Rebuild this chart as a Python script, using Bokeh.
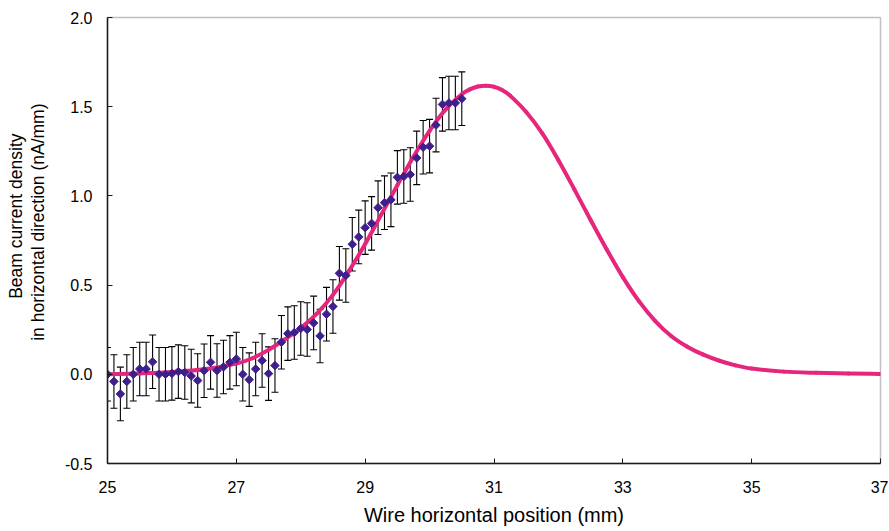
import math
from bokeh.plotting import figure
from bokeh.models import (ColumnDataSource, Whisker, TeeHead, FixedTicker,
                          PrintfTickFormatter, Title, Range1d)
from bokeh.embed import file_html
from bokeh.resources import INLINE

# ---- measured data (wire position in mm, current density in nA/mm) ----
POSITION = [25.0, 25.1, 25.2, 25.3, 25.4, 25.5, 25.6, 25.7, 25.8, 25.9,
            26.0, 26.1, 26.2, 26.3, 26.4, 26.5, 26.6, 26.7, 26.8, 26.9,
            27.0, 27.1, 27.2, 27.3, 27.4, 27.5, 27.6, 27.7, 27.8, 27.9,
            28.0, 28.1, 28.2, 28.3, 28.4, 28.5, 28.6, 28.7, 28.8, 28.9,
            29.0, 29.1, 29.2, 29.3, 29.4, 29.5, 29.6, 29.7, 29.8, 29.9,
            30.0, 30.1, 30.2, 30.3, 30.4, 30.5]
DENSITY = [0.00, -0.04, -0.11, -0.04, 0.00, 0.03, 0.03, 0.07, 0.00, 0.00,
           0.005, 0.015, 0.01, -0.01, -0.035, 0.02, 0.067, 0.021, 0.041, 0.067,
           0.086, 0.00, -0.03, 0.03, 0.077, 0.004, 0.049, 0.18, 0.228, 0.234,
           0.257, 0.251, 0.288, 0.215, 0.337, 0.38, 0.566, 0.554, 0.729, 0.77,
           0.822, 0.846, 0.934, 0.962, 0.978, 1.104, 1.109, 1.12, 1.213, 1.273,
           1.279, 1.397, 1.513, 1.521, 1.521, 1.545]
ERROR = 0.15

# ---- fitted profile ----
CURVE_X = [25.0, 25.5, 26.0, 26.5, 27.0, 27.25, 27.5, 27.75, 28.0, 28.25,
           28.5, 28.75, 29.0, 29.25, 29.5, 29.75, 30.0, 30.25, 30.5, 30.625,
           30.75, 30.87, 31.0, 31.125, 31.25, 31.5, 31.75, 32.0, 32.25, 32.5,
           32.75, 33.0, 33.25, 33.5, 33.75, 34.0, 34.25, 34.5, 34.75, 35.0,
           35.5, 36.0, 36.5, 37.0]
CURVE_Y = [0.0, 0.005, 0.013, 0.028, 0.06, 0.09, 0.137, 0.195, 0.26, 0.34,
           0.445, 0.58, 0.73, 0.895, 1.06, 1.22, 1.365, 1.485, 1.57, 1.597,
           1.613, 1.618, 1.612, 1.594, 1.562, 1.47, 1.35, 1.20, 1.035, 0.865,
           0.70, 0.545, 0.41, 0.30, 0.215, 0.155, 0.11, 0.076, 0.05, 0.032,
           0.015, 0.008, 0.004, 0.002]

X_TICKS = [25, 27, 29, 31, 33, 35, 37]
Y_TICKS = [-0.5, 0.0, 0.5, 1.0, 1.5, 2.0]
Y_TITLE = ["Beam current density", "in horizontal direction (nA/mm)"]
X_TITLE = "Wire horizontal position (mm)"

FONT = "Liberation Sans"
PINK = "#e5267c"
PURPLE = "#3f1f8c"

pts = ColumnDataSource(dict(
    x=POSITION, y=DENSITY,
    upper=[v + ERROR for v in DENSITY],
    lower=[v - ERROR for v in DENSITY]))

# smooth drawing of the read profile: cubic Hermite pieces as Bezier segments
n = len(CURVE_X)
slopes = []
for i in range(n):
    a = max(i - 1, 0)
    b = min(i + 1, n - 1)
    slopes.append((CURVE_Y[b] - CURVE_Y[a]) / (CURVE_X[b] - CURVE_X[a]))
seg = dict(x0=[], y0=[], x1=[], y1=[], cx0=[], cy0=[], cx1=[], cy1=[])
for i in range(n - 1):
    h = CURVE_X[i + 1] - CURVE_X[i]
    seg["x0"].append(CURVE_X[i]); seg["y0"].append(CURVE_Y[i])
    seg["x1"].append(CURVE_X[i + 1]); seg["y1"].append(CURVE_Y[i + 1])
    seg["cx0"].append(CURVE_X[i] + h / 3); seg["cy0"].append(CURVE_Y[i] + slopes[i] * h / 3)
    seg["cx1"].append(CURVE_X[i + 1] - h / 3); seg["cy1"].append(CURVE_Y[i + 1] - slopes[i + 1] * h / 3)
crv = ColumnDataSource(seg)

p = figure(width=888, height=530, output_backend="svg", toolbar_location=None,
           x_range=Range1d(25, 37), y_range=Range1d(-0.5, 2.0),
           min_border_left=107, min_border_right=8, min_border_top=17,
           min_border_bottom=67)
p.background_fill_color = "white"
p.border_fill_color = "white"
p.outline_line_color = "#c0c0c0"
p.outline_line_width = 1.5
p.xgrid.visible = False
p.ygrid.visible = False

# error bars
w = Whisker(source=pts, base="x", upper="upper", lower="lower",
            line_color="black", line_width=1.1,
            upper_head=TeeHead(size=7, line_color="black", line_width=1.1),
            lower_head=TeeHead(size=7, line_color="black", line_width=1.1))
p.add_layout(w)

p.bezier("x0", "y0", "x1", "y1", "cx0", "cy0", "cx1", "cy1", source=crv,
         line_color=PINK, line_width=4, line_cap="round")
p.scatter("x", "y", source=pts, marker="square", angle=math.pi / 4, size=6,
          fill_color=PURPLE, line_color=PURPLE)

for ax in (p.xaxis[0], p.yaxis[0]):
    ax.axis_line_color = "#1a1a1a"
    ax.axis_line_width = 1.5
    ax.major_tick_in = 5
    ax.major_tick_out = 0
    ax.major_tick_line_color = "#1a1a1a"
    ax.minor_tick_line_color = None
    ax.major_label_text_font = FONT
    ax.major_label_text_font_size = "16px"
    ax.major_label_text_color = "black"

p.xaxis.ticker = FixedTicker(ticks=X_TICKS)
p.xaxis.formatter = PrintfTickFormatter(format="%d")
p.xaxis.major_label_standoff = 17
p.xaxis.axis_label = X_TITLE
p.xaxis.axis_label_text_font = FONT
p.xaxis.axis_label_text_font_size = "20px"
p.xaxis.axis_label_text_font_style = "normal"
p.xaxis.axis_label_text_color = "black"
p.xaxis.axis_label_standoff = 8

p.yaxis.ticker = FixedTicker(ticks=Y_TICKS)
p.yaxis.formatter = PrintfTickFormatter(format="%.1f")
p.yaxis.major_label_standoff = 15

# two-line y title as stacked side titles (a blank one acts as spacer)
spacer = Title(text=" ", text_font_size="1px", standoff=11)
t2 = Title(text=Y_TITLE[1], align="right", offset=86,
           text_font=FONT, text_font_size="17.5px", text_font_style="normal",
           text_color="black", standoff=0, text_line_height=0.85)
t1 = Title(text=Y_TITLE[0], align="right", offset=116,
           text_font=FONT, text_font_size="17.5px", text_font_style="normal",
           text_color="black", standoff=0)
p.add_layout(spacer, "left")
p.add_layout(t2, "left")
p.add_layout(t1, "left")

open("out.html", "w").write(file_html(p, INLINE))
